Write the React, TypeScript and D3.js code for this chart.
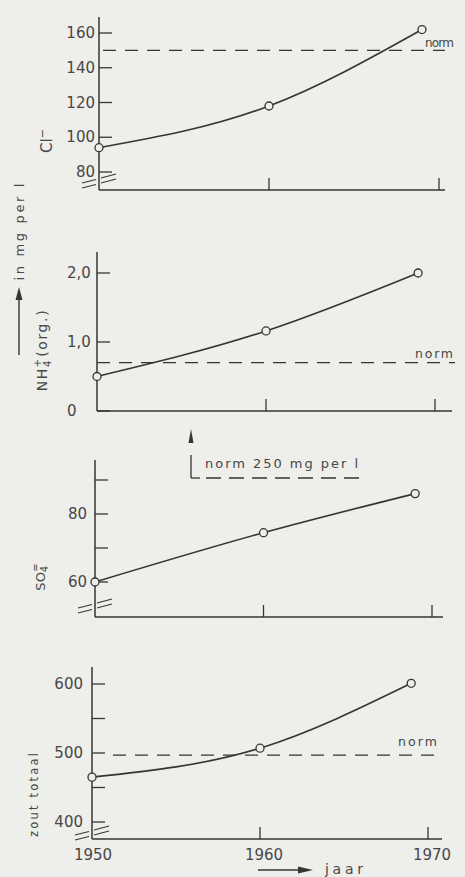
import React from "react";
import * as d3 from "d3";

// ---------- data ----------
const years = [1950, 1960, 1969];
const xTicks = [1950, 1960, 1970];
const xTickLabels = ["1950", "1960", "1970"];

const clValues = [94, 118, 162];
const clTicks = [80, 100, 120, 140, 160];
const clTickLabels = ["80", "100", "120", "140", "160"];
const clNorm = 150;

const nhValues = [0.5, 1.16, 2.0];
const nhTicks = [0, 1, 2];
const nhTickLabels = ["0", "1,0", "2,0"];
const nhNorm = 0.7;

const so4Values = [60, 74.5, 86];
const so4Ticks = [60, 70, 80, 90];
const so4TickLabels = ["60", "", "80", ""];

const zoutValues = [465, 507, 601];
const zoutTicks = [400, 450, 500, 550, 600];
const zoutTickLabels = ["400", "", "500", "", "600"];
const zoutNorm = 497;

const INK = "#353535";
const TEXT = "#474747";
const BG = "#eeeeeb";
const FONT = "'DejaVu Sans', sans-serif";

type PanelCfg = {
  values: number[];
  ticks: number[];
  tickLabels: string[];
  norm: number | null;
  x0: number;
  x1: number;
  xEnd: number;
  top: number;
  bottom: number;
  domain: [number, number];
  range: [number, number];
  labelX: number;
  anchor: "start" | "end";
  breakY: number | null;
  normX: [number, number];
  normLabelX: number;
  normLabelLen: number;
  normLabelDy: number;
  normFont: number;
  showXLabels: boolean;
};

const panels: PanelCfg[] = [
  {
    values: clValues, ticks: clTicks, tickLabels: clTickLabels, norm: clNorm,
    x0: 99, x1: 439, xEnd: 445, top: 17, bottom: 190,
    domain: [80, 160], range: [172, 33], labelX: 95, anchor: "end",
    breakY: 178, normX: [103, 445], normLabelX: 425, normLabelLen: 29, normLabelDy: -3, normFont: 12,
    showXLabels: false,
  },
  {
    values: nhValues, ticks: nhTicks, tickLabels: nhTickLabels, norm: nhNorm,
    x0: 97, x1: 435, xEnd: 452, top: 252, bottom: 411,
    domain: [0, 2], range: [411, 273], labelX: 67, anchor: "start",
    breakY: null, normX: [97, 455], normLabelX: 415, normLabelLen: 38, normLabelDy: -5, normFont: 12.5,
    showXLabels: false,
  },
  {
    values: so4Values, ticks: so4Ticks, tickLabels: so4TickLabels, norm: null,
    x0: 95, x1: 432, xEnd: 443, top: 460, bottom: 617,
    domain: [60, 90], range: [582, 480], labelX: 87, anchor: "end",
    breakY: 603, normX: [0, 0], normLabelX: 0, normLabelLen: 0, normLabelDy: 0, normFont: 12,
    showXLabels: false,
  },
  {
    values: zoutValues, ticks: zoutTicks, tickLabels: zoutTickLabels, norm: zoutNorm,
    x0: 92, x1: 428, xEnd: 442, top: 667, bottom: 839,
    domain: [400, 600], range: [822, 684], labelX: 83, anchor: "end",
    breakY: 830, normX: [113, 437], normLabelX: 398, normLabelLen: 39, normLabelDy: -9, normFont: 12.5,
    showXLabels: true,
  },
];

function Panel({ p }: { p: PanelCfg }) {
  const x = d3.scaleLinear().domain([1950, 1970]).range([p.x0, p.x1]);
  const y = d3.scaleLinear().domain(p.domain).range(p.range);
  const pts: [number, number][] = years.map((yr, i) => [x(yr), y(p.values[i])]);
  const line = d3.line<[number, number]>().x((d) => d[0]).y((d) => d[1]).curve(d3.curveMonotoneX);
  const ax = x(1950);
  return (
    <g>
      {/* axes */}
      <line x1={ax} x2={ax} y1={p.top} y2={p.bottom} stroke={INK} strokeWidth={1.5} />
      <line x1={ax} x2={p.xEnd} y1={p.bottom} y2={p.bottom} stroke={INK} strokeWidth={1.5} />
      {p.ticks.map((t, i) => (
        <g key={"yt" + i}>
          <line x1={ax} x2={ax + 13} y1={y(t)} y2={y(t)} stroke={INK} strokeWidth={1.3} />
          {p.tickLabels[i] && (
            <text x={p.labelX} y={y(t)} dominantBaseline="central" textAnchor={p.anchor}
              fontSize={15} fill={TEXT} fontFamily={FONT}>{p.tickLabels[i]}</text>
          )}
        </g>
      ))}
      {xTicks.slice(1).map((t, i) => (
        <line key={"xt" + i} x1={x(t)} x2={x(t)} y1={p.bottom} y2={p.bottom - 12} stroke={INK} strokeWidth={1.3} />
      ))}
      {p.showXLabels && xTicks.map((t, i) => (
        <text key={"xl" + i} x={x(t) + (i === 0 ? 1 : 4)} y={p.bottom + 21} textAnchor="middle"
          fontSize={15} fill={TEXT} fontFamily={FONT}>{xTickLabels[i]}</text>
      ))}
      {/* break marks */}
      {p.breakY !== null && [0, 5].map((o) => (
        <g key={"b" + o}>
          <line x1={ax - 17} y1={p.breakY! + 5 + o} x2={ax - 3} y2={p.breakY! + 1.5 + o}
            stroke={INK} strokeWidth={1.1} />
          <line x1={ax + 2} y1={p.breakY! + o} x2={ax + 17} y2={p.breakY! - 4 + o}
            stroke={INK} strokeWidth={1.1} />
        </g>
      ))}
      {/* norm */}
      {p.norm !== null && (
        <g>
          <line x1={p.normX[0]} x2={p.normX[1]} y1={y(p.norm)} y2={y(p.norm)} stroke={INK}
            strokeWidth={1.3} strokeDasharray="13 9" />
          <text x={p.normLabelX} y={y(p.norm) + p.normLabelDy} fontSize={p.normFont} fill={TEXT}
            fontFamily={FONT} textLength={p.normLabelLen} lengthAdjust="spacing">norm</text>
        </g>
      )}
      {/* series */}
      <path d={line(pts) || ""} fill="none" stroke={INK} strokeWidth={1.6} />
      {pts.map((d, i) => (
        <circle key={"c" + i} cx={d[0]} cy={d[1]} r={4} fill={BG} stroke={INK} strokeWidth={1.3} />
      ))}
    </g>
  );
}

export default function App() {
  return (
    <svg width={465} height={877} style={{ position: "absolute", left: 0, top: 0, display: "block" }}
      fontFamily={FONT}>
      <rect x={0} y={0} width={465} height={877} fill={BG} />
      {panels.map((p, i) => <Panel key={i} p={p} />)}

      {/* shared y label */}
      <text transform="translate(24,232) rotate(-90)" textAnchor="middle" fontSize={13} fill={TEXT}
        textLength={97} lengthAdjust="spacing">in mg per l</text>
      <line x1={19} x2={19} y1={355} y2={296} stroke={INK} strokeWidth={1.4} />
      <path d="M19,287 L15.5,300 L22.5,300 Z" fill={INK} />

      {/* panel labels */}
      <text transform="translate(52,141) rotate(-90)" textAnchor="middle" fontSize={15} fill={TEXT}>
        Cl<tspan dy={-6} fontSize={11}>−</tspan>
      </text>
      <text transform="translate(47,350) rotate(-90)" textAnchor="middle" fontSize={14} fill={TEXT}>
        <tspan letterSpacing={1.6}>NH</tspan><tspan dy={4} fontSize={10}>4</tspan><tspan dx={-6.5} dy={-10} fontSize={10}>+</tspan><tspan dx={2} dy={6} letterSpacing={1.6}>(org.)</tspan>
      </text>
      <text transform="translate(45,577) rotate(-90)" textAnchor="middle" fontSize={13} fill={TEXT}>
        SO<tspan dy={3} fontSize={10}>4</tspan><tspan dx={-6} dy={-9} fontSize={10}>=</tspan>
      </text>
      <text transform="translate(38,795) rotate(-90)" textAnchor="middle" fontSize={11.5} fill={TEXT}
        textLength={84} lengthAdjust="spacing">zout totaal</text>

      {/* norm 250 mg per l annotation */}
      <path d="M191,429 L188.5,443 L193.5,443 Z" fill={INK} />
      <line x1={191} x2={191} y1={455} y2={478} stroke={INK} strokeWidth={1.3} />
      <line x1={191} x2={200} y1={478} y2={478} stroke={INK} strokeWidth={1.3} />
      <line x1={206} x2={360} y1={478} y2={478} stroke={INK} strokeWidth={1.3} strokeDasharray="15 8" />
      <text x={205} y={468} fontSize={13} fill={TEXT} textLength={153} lengthAdjust="spacing">norm 250 mg per l</text>

      {/* jaar */}
      <line x1={258} x2={300} y1={870} y2={870} stroke={INK} strokeWidth={1.3} />
      <path d="M313,870 L298,866.5 L298,873.5 Z" fill={INK} />
      <text x={325} y={874} fontSize={14} fill={TEXT} textLength={38} lengthAdjust="spacing">jaar</text>
    </svg>
  );
}
